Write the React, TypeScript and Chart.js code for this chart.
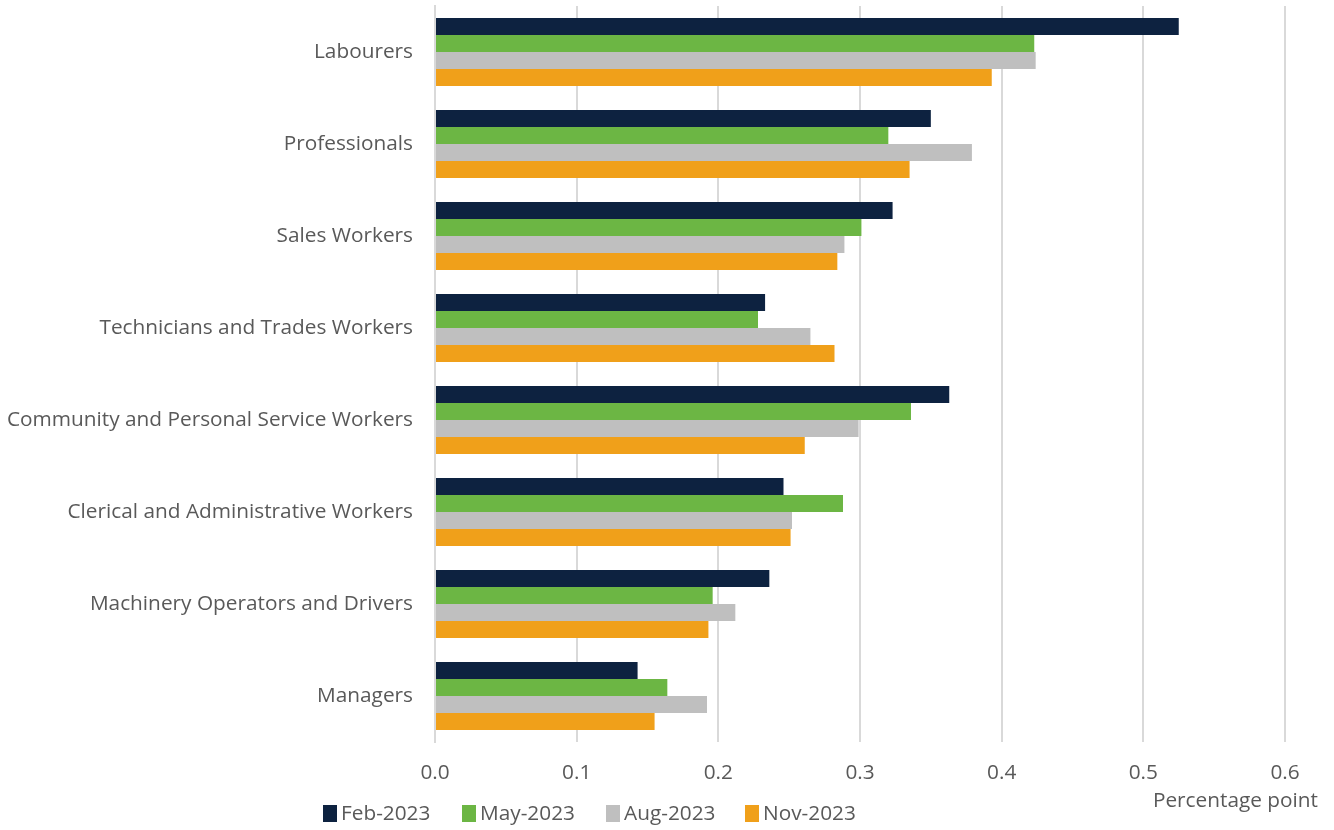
import React, { useEffect, useRef } from "react";
import { Chart, registerables } from "chart.js";

Chart.register(...registerables);

const categories = [
  "Labourers",
  "Professionals",
  "Sales Workers",
  "Technicians and Trades Workers",
  "Community and Personal Service Workers",
  "Clerical and Administrative Workers",
  "Machinery Operators and Drivers",
  "Managers",
];

const seriesNames = ["Feb-2023", "May-2023", "Aug-2023", "Nov-2023"];
const seriesColors = ["#0d2240", "#6cb644", "#bfbfbf", "#f0a01a"];

const feb2023 = [0.525, 0.35, 0.323, 0.233, 0.363, 0.246, 0.236, 0.143];
const may2023 = [0.423, 0.32, 0.301, 0.228, 0.336, 0.288, 0.196, 0.164];
const aug2023 = [0.424, 0.379, 0.289, 0.265, 0.299, 0.252, 0.212, 0.192];
const nov2023 = [0.393, 0.335, 0.284, 0.282, 0.261, 0.251, 0.193, 0.155];

const xTicks = [0, 0.1, 0.2, 0.3, 0.4, 0.5, 0.6];
const axisTitle = "Percentage point";

const FONT = "'Open Sans', sans-serif";
const FS = 20.8;
const TEXT = "#595959";

const overlayPlugin = {
  id: "overlay",
  afterDraw(chart: any) {
    const ctx = chart.ctx;
    ctx.save();
    ctx.font = `${FS}px ${FONT}`;
    ctx.fillStyle = TEXT;
    ctx.textBaseline = "middle";
    ctx.textAlign = "right";
    ctx.fillText(axisTitle, 1318, 801);
    ctx.textAlign = "left";
    const starts = [323, 462, 606, 745];
    seriesNames.forEach((name, i) => {
      const x = starts[i];
      ctx.fillStyle = seriesColors[i];
      ctx.fillRect(x, 805, 14, 17);
      ctx.fillStyle = TEXT;
      ctx.fillText(name, x + 18, 814);
    });
    ctx.restore();
  },
};

export default function App() {
  const ref = useRef<HTMLCanvasElement>(null);
  useEffect(() => {
    if (!ref.current) return;
    const data = [feb2023, may2023, aug2023, nov2023];
    const chart = new Chart(ref.current, {
      type: "bar",
      data: {
        labels: categories,
        datasets: data.map((d, i) => ({
          label: seriesNames[i],
          data: d,
          backgroundColor: seriesColors[i],
          borderWidth: 0,
          barPercentage: 1,
          categoryPercentage: 0.74,
        })),
      },
      options: {
        indexAxis: "y",
        animation: false,
        responsive: false,
        maintainAspectRatio: false,
        layout: { padding: { left: 0, right: 49, top: 6, bottom: 0 } },
        plugins: {
          legend: { display: false },
          tooltip: { enabled: false },
        },
        scales: {
          x: {
            min: 0,
            max: 0.6,
            afterBuildTicks: (axis: any) => {
              axis.ticks = xTicks.map((v) => ({ value: v }));
            },
            afterFit: (axis: any) => {
              axis.height = 88;
            },
            ticks: {
              font: { family: FONT, size: FS },
              color: TEXT,
              padding: 19,
              callback: (v: any) => Number(v).toFixed(1),
            },
            grid: {
              color: "#d9d9d9",
              lineWidth: 2,
              drawTicks: false,
            },
            border: { display: false },
          },
          y: {
            afterFit: (axis: any) => {
              axis.width = 435;
              axis.paddingTop = 0;
              axis.paddingBottom = 0;
            },
            ticks: {
              font: { family: FONT, size: FS },
              color: TEXT,
              padding: 22,
            },
            grid: { display: false, drawTicks: false },
            border: { display: true, color: "#d9d9d9", width: 2 },
          },
        },
      },
      plugins: [overlayPlugin],
    });
    return () => chart.destroy();
  }, []);
  return (
    <div style={{ position: "fixed", left: 0, top: 0, width: 1334, height: 830, background: "#fff" }}>
      <canvas ref={ref} width={1334} height={830} />
    </div>
  );
}
